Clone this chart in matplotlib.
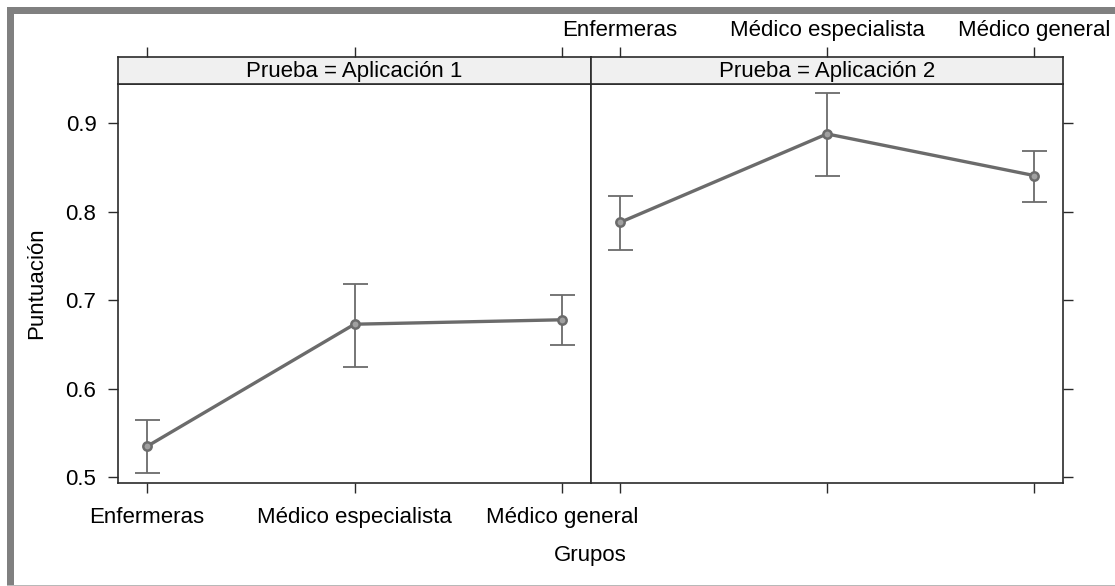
import matplotlib
matplotlib.use('Agg')
import matplotlib.pyplot as plt
from matplotlib.patches import Rectangle

plt.rcParams['font.family'] = ['Liberation Sans', 'DejaVu Sans']

# --- data ---
grupos = ['Enfermeras', 'Médico especialista', 'Médico general']
pruebas = ['Aplicación 1', 'Aplicación 2']
media = [[0.535, 0.673, 0.678],
         [0.788, 0.888, 0.841]]
lim_inf = [[0.505, 0.625, 0.649],
           [0.757, 0.841, 0.811]]
lim_sup = [[0.565, 0.718, 0.706],
           [0.818, 0.934, 0.869]]
yticks = [0.5, 0.6, 0.7, 0.8, 0.9]

W, H = 1115, 586
LINE = '#6b6b6b'
FRAME = '#2a2a2a'
FS = 16

fig = plt.figure(figsize=(W / 100, H / 100), dpi=100)

# panel geometry (pixels -> figure fraction)
x_edges = [(118, 591), (591, 1063)]
top_px, bot_px, strip_px = 84, 483, 57
xpos = [1, 2, 3]

for i, (x0, x1) in enumerate(x_edges):
    ax = fig.add_axes([x0 / W, 1 - bot_px / H, (x1 - x0) / W, (bot_px - top_px) / H])
    st = fig.add_axes([x0 / W, 1 - top_px / H, (x1 - x0) / W, (top_px - strip_px) / H])

    err_lo = [m - l for m, l in zip(media[i], lim_inf[i])]
    err_hi = [u - m for m, u in zip(media[i], lim_sup[i])]
    ax.errorbar(xpos, media[i], yerr=[err_lo, err_hi], fmt='none',
                ecolor=LINE, elinewidth=1.3, capsize=9, capthick=1.3, zorder=2)
    ax.plot(xpos, media[i], color=LINE, lw=2.4, marker='o', ms=6,
            mfc='#a0a0a0', mec=LINE, mew=1.8, zorder=3)

    ax.set_xlim(0.86, 3.14)
    ax.set_ylim(0.4936, 0.9444)
    for a in (ax, st):
        for s in a.spines.values():
            s.set_color(FRAME)
            s.set_linewidth(1.2)
    ax.tick_params(direction='out', length=7.5, width=1.0, colors=FRAME,
                   labelsize=FS, labelcolor='black')

    ax.set_xticks(xpos)
    ax.set_yticks(yticks)
    if i == 0:
        ax.set_xticklabels(grupos)
        ax.set_yticklabels([f'{v:.1f}' for v in yticks])
        ax.tick_params(axis='x', pad=10)
        ax.tick_params(axis='y', pad=8)
    else:
        ax.set_xticklabels([])
        ax.yaxis.tick_right()
        ax.set_yticklabels([])

    # strip on top of each panel
    st.set_facecolor('#f0f0f0')
    st.set_xlim(0.86, 3.14)
    st.set_ylim(0, 1)
    st.set_yticks([])
    st.xaxis.tick_top()
    st.set_xticks(xpos)
    st.tick_params(direction='out', length=7.5, width=1.0, colors=FRAME,
                   labelsize=FS, labelcolor='black', pad=4)
    if i == 1:
        st.set_xticklabels(grupos)
    else:
        st.set_xticklabels([])
    st.text(0.5, 0.45, f'Prueba = {pruebas[i]}', transform=st.transAxes,
            ha='center', va='center', fontsize=FS)

fig.text(37 / W, 1 - 283 / H, 'Puntuación', rotation=90, ha='center', va='center', fontsize=FS)
fig.text(590 / W, 1 - 556 / H, 'Grupos', ha='center', va='center', fontsize=FS)

# gray frame around the picture
fig.add_artist(Rectangle((7 / W, 0), 7 / W, 1 - 7 / H, transform=fig.transFigure,
                         color='#808080', lw=0))
fig.add_artist(Rectangle((7 / W, 1 - 14 / H), 1 - 7 / W, 7 / H, transform=fig.transFigure,
                         color='#808080', lw=0))
fig.add_artist(Rectangle((7 / W, 0), 1 - 7 / W, 1.5 / H, transform=fig.transFigure,
                         color='#b8b8b8', lw=0))

fig.savefig('out.png', dpi=100)
